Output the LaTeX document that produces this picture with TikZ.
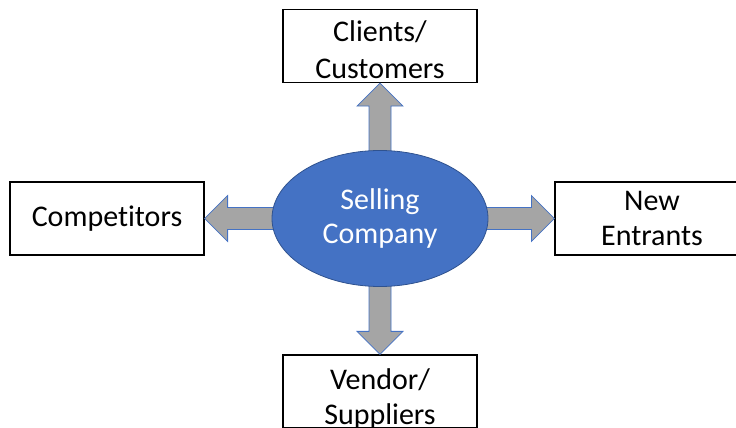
\documentclass[tikz,border=0pt]{standalone}
\usepackage{fontspec}
\setmainfont{Carlito}[Ligatures=CommonOff]
\usetikzlibrary{shapes.geometric,calc}

\definecolor{officeblue}{HTML}{4472C4}
\definecolor{rimblue}{HTML}{2F528F}
\definecolor{arrowgray}{HTML}{A5A5A5}

\tikzset{
  party/.style={draw, line width=1.2pt, fill=white, minimum width=194pt, minimum height=73pt,
    align=center, font=\fontsize{30}{35}\selectfont},
  % sets the last baseline #1/2 below the box centre
  lowtext/.style={text height=#1, text depth=0pt},
  firm/.style={ellipse, draw=rimblue, line width=0.8pt, fill=officeblue, text=white,
    minimum width=216pt, minimum height=136pt, align=center, font=\fontsize{30}{34}\selectfont},
  blockarr/.style={draw=officeblue, fill=arrowgray, line width=0.8pt, line join=miter}
}

% fat arrow from #1 to #2: shaft 22pt wide, head 46pt wide and 23pt long
\newcommand{\blockarrow}[2]{%
  \path[blockarr] let \p1=($(#2)-(#1)$), \n1={veclen(\x1,\y1)}, \n2={atan2(\y1,\x1)} in
    [shift={(#1)}, rotate=\n2]
    (-3pt,-11pt) -- (\n1-23pt,-11pt) -- (\n1-23pt,-23pt) -- (\n1,0pt)
    -- (\n1-23pt,23pt) -- (\n1-23pt,11pt) -- (-3pt,11pt) -- cycle;}

\begin{document}
\begin{tikzpicture}[x=1pt, y=1pt]
\useasboundingbox (0,0) rectangle (736,428);

\node[party, lowtext=65pt, font=\fontsize{30}{37}\selectfont] (cli) at (380,382) {Clients/\\Customers};
\node[party] (comp) at (107,209.5) {Competitors};
\node[party] (newent) at (652,209.5) {New\\Entrants};
\node[party, lowtext=66pt, inner ysep=2pt] (vend) at (380,36.5) {Vendor/\\Suppliers};

% arrows first, the ellipse covers their tails
\blockarrow{380,209.5+68}{cli.south}
\blockarrow{380-108,209.5}{comp.east}
\blockarrow{380+108,209.5}{newent.west}
\blockarrow{380,209.5-68}{vend.north}

\node[firm] (sell) at (380,209.5) {Selling\\Company};

\end{tikzpicture}
\end{document}
